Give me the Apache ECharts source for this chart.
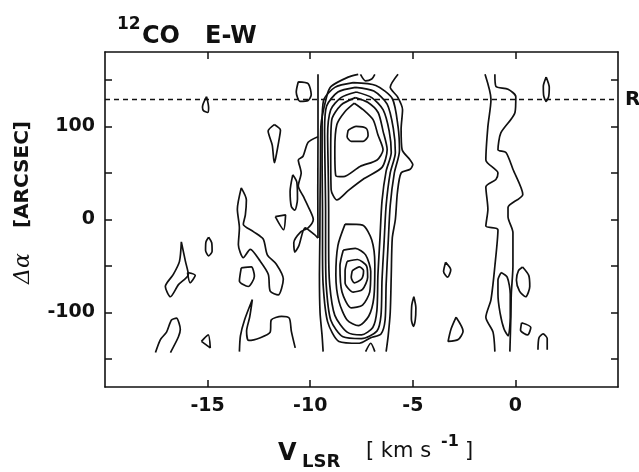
<!DOCTYPE html>
<html>
<head>
<meta charset="utf-8">
<script src="https://cdn.jsdelivr.net/npm/echarts@6/dist/echarts.min.js"></script>
<style>
  html, body { margin: 0; padding: 0; background: #fff; }
  #chart { width: 639px; height: 472px; }
</style>
</head>
<body>
<div id="chart"></div>
<script>
// axis ticks and labels
var xTicks = [-15, -10, -5, 0];
var yTicks = [-150, -100, -50, 0, 50, 100, 150];
var yLabels = [-100, 0, 100];
var refOffset = 129; // dashed line "R"

// contour lines, [v_LSR (km/s), delta alpha (arcsec)]
// main cloud, upper lobe
var upperPeak = [[-8.15,96],[-7.76,100],[-7.27,98],[-7.18,90],[-7.42,84],[-8.0,84],[-8.2,89],[-8.15,96]];
var upperInner = [[-7.85,125],[-7.42,118],[-6.93,107],[-6.7,91],[-6.45,75],[-6.74,64],[-7.57,57],[-8.39,46],[-8.75,47],[-8.8,75],[-8.7,102],[-8.3,116],[-7.85,125]];
var upperOuter = [[-7.8,131],[-7.2,126],[-6.69,115],[-6.45,95],[-6.25,75],[-6.5,56],[-7.37,44],[-8.15,31],[-8.7,21],[-8.98,32],[-9.0,75],[-8.95,107],[-8.5,123],[-7.8,131]];
// main cloud, lower lobe
var lowerPeak = [[-7.95,-55],[-7.6,-51],[-7.4,-55],[-7.5,-64],[-7.85,-68],[-8.0,-62],[-7.95,-55]];
var lowerCore = [[-8.2,-45],[-7.7,-43],[-7.25,-50],[-7.2,-62],[-7.45,-75],[-7.9,-78],[-8.3,-68],[-8.3,-55],[-8.2,-45]];
var lowerInner = [[-8.39,-33],[-7.8,-31],[-7.3,-38],[-7.05,-56],[-7.1,-78],[-7.45,-92],[-8.0,-95],[-8.45,-78],[-8.55,-50],[-8.39,-33]];
var lowerMid = [[-8.3,-5],[-7.45,-6],[-7.0,-22],[-6.85,-48],[-6.9,-84],[-7.15,-104],[-7.65,-114],[-8.2,-108],[-8.6,-88],[-8.75,-60],[-8.65,-28],[-8.3,-5]];
// contours around both lobes
var env1 = [[-7.75,137],[-7.0,131],[-6.45,118],[-6.15,95],[-6.05,72],[-6.3,52],[-6.5,20],[-6.6,-20],[-6.7,-60],[-6.75,-98],[-6.95,-116],[-7.5,-124],[-8.2,-121],[-8.8,-103],[-9.05,-70],[-9.1,-30],[-9.1,10],[-9.12,50],[-9.15,90],[-9.0,118],[-8.5,131],[-7.75,137]];
var env2 = [[-7.8,142],[-6.9,138],[-6.25,124],[-5.95,98],[-5.85,72],[-6.1,50],[-6.3,15],[-6.4,-25],[-6.5,-65],[-6.55,-103],[-6.75,-120],[-7.5,-128],[-8.4,-126],[-9.0,-108],[-9.22,-70],[-9.25,-30],[-9.25,10],[-9.28,60],[-9.3,95],[-9.2,122],[-8.65,137],[-7.8,142]];
var env3 = [[-7.9,147],[-6.8,144],[-6.0,130],[-5.72,100],[-5.65,74],[-5.9,50],[-6.1,15],[-6.2,-25],[-6.3,-70],[-6.35,-108],[-6.55,-123],[-7.05,-127],[-7.6,-133],[-8.6,-131],[-9.15,-110],[-9.37,-70],[-9.4,-30],[-9.4,10],[-9.42,60],[-9.42,100],[-9.35,128],[-8.8,142],[-7.9,147]];
var envLeft = [[-7.66,156],[-8.15,153],[-8.98,143],[-9.2,132],[-9.48,100],[-9.5,60],[-9.52,20],[-9.53,-20],[-9.55,-60],[-9.52,-100],[-9.42,-125],[-9.37,-142]];
var envRight = [[-5.72,156],[-6.1,142],[-5.75,132],[-5.5,118],[-5.57,97],[-5.52,75],[-5.13,64],[-5.0,59],[-5.13,54],[-5.57,50],[-5.75,29],[-5.85,0],[-6.0,-20],[-6.05,-60],[-6.1,-100],[-6.2,-125],[-6.3,-142]];
var topWiggle = [[-7.55,156],[-7.3,149],[-7.0,151],[-6.85,156]];
var bottomArch = [[-7.3,-142],[-7.05,-133],[-6.85,-142]];
var vertLine = [[-9.62,156],[-9.62,90],[-9.63,30],[-9.62,-20]];
var wavyLeft = [[-9.62,89],[-10.1,83],[-10.35,68],[-10.58,64],[-10.44,50],[-10.58,36],[-10.34,25],[-10.1,14],[-9.85,0],[-10.1,-9],[-10.45,-13],[-10.8,-25],[-10.75,-35],[-10.55,-28],[-10.25,-9],[-9.8,-16],[-9.62,-20]];
// small features, west side
var leftOval = [[-10.85,48],[-10.65,40],[-10.62,22],[-10.75,10],[-10.92,14],[-10.98,30],[-10.85,48]];
var dShape = [[-10.58,148],[-10.1,146],[-9.95,134],[-10.1,128],[-10.5,127],[-10.68,137],[-10.58,148]];
var tinyTri = [[-15.05,132],[-14.95,120],[-15.0,115],[-15.2,117],[-15.25,121],[-15.05,132]];
var drop = [[-11.75,102],[-11.45,96],[-11.5,88],[-11.7,64],[-11.75,61],[-11.85,80],[-12.05,95],[-11.75,102]];
var snake = [[-13.36,34],[-13.11,21],[-13.16,5],[-13.26,-5],[-12.77,-13],[-12.29,-21],[-12.09,-38],[-11.65,-48],[-11.31,-64],[-11.56,-81],[-11.95,-77],[-12.04,-59],[-12.43,-45],[-12.92,-32],[-13.26,-41],[-13.5,-27],[-13.45,-9],[-13.55,11],[-13.36,34]];
var smallTri = [[-11.7,3],[-11.2,5],[-11.3,-11],[-11.7,3]];
var longLeft = [[-16.28,-24],[-16.08,-45],[-15.94,-59],[-16.42,-70],[-16.81,-83],[-17.06,-72],[-16.67,-59],[-16.37,-45],[-16.28,-24]];
var ovalA = [[-14.95,-19],[-14.8,-25],[-14.78,-34],[-14.95,-39],[-15.1,-33],[-15.08,-24],[-14.95,-19]];
var triA = [[-15.98,-57],[-15.6,-60],[-15.85,-68],[-15.98,-57]];
var pent = [[-13.36,-52],[-12.87,-51],[-12.72,-61],[-13.02,-72],[-13.45,-66],[-13.36,-52]];
var archLeft = [[-17.54,-143],[-17.3,-129],[-17.0,-121],[-16.76,-108],[-16.52,-106],[-16.33,-118],[-16.42,-126],[-16.81,-143]];
var triB = [[-15.3,-131],[-14.97,-124],[-14.87,-138],[-15.3,-131]];
var spike = [[-13.45,-142],[-13.4,-125],[-13.2,-108],[-12.82,-86],[-12.95,-105],[-13.1,-120],[-13.0,-130],[-12.43,-127],[-11.95,-121],[-11.9,-108],[-11.4,-104],[-11.02,-106],[-10.92,-120],[-10.73,-138]];
// small features, east side
var lineA = [[-1.48,156],[-1.19,129],[-1.34,100],[-1.44,64],[-0.85,50],[-0.95,43],[-1.44,35],[-1.34,11],[-1.44,-7],[-0.85,-11],[-1.0,-50],[-1.19,-86],[-1.44,-105],[-1.09,-121],[-1.0,-142]];
var lineB = [[-1.0,156],[-0.95,143],[-0.36,140],[0.02,132],[-0.02,115],[-0.71,93],[-0.85,75],[-0.46,72],[-0.12,54],[0.36,27],[-0.36,13],[-0.36,3],[-0.12,-14],[-0.12,-50],[-0.2,-80],[-0.22,-104],[-0.27,-142]];
var ovalC = [[-0.7,-57],[-0.4,-62],[-0.25,-80],[-0.25,-105],[-0.35,-125],[-0.55,-118],[-0.75,-100],[-0.85,-80],[-0.85,-65],[-0.7,-57]];
var ovalD = [[0.35,-51],[0.65,-60],[0.7,-72],[0.5,-83],[0.2,-77],[0.05,-65],[0.15,-55],[0.35,-51]];
var dropE = [[-3.4,-46],[-3.15,-54],[-3.3,-62],[-3.5,-56],[-3.4,-46]];
var thinOval = [[-4.95,-83],[-4.85,-95],[-4.88,-108],[-4.97,-115],[-5.07,-107],[-5.05,-92],[-4.95,-83]];
var triC = [[-2.89,-105],[-2.55,-120],[-2.79,-129],[-3.28,-131],[-3.14,-118],[-2.89,-105]];
var diamond = [[0.3,-111],[0.75,-116],[0.6,-124],[0.25,-119],[0.3,-111]];
var archRight = [[1.1,-140],[1.15,-127],[1.35,-123],[1.55,-128],[1.55,-140]];
var ovalTop = [[1.5,153],[1.65,142],[1.62,132],[1.5,127],[1.38,133],[1.36,143],[1.5,153]];

var contours = [
  upperPeak, upperInner, upperOuter,
  lowerPeak, lowerCore, lowerInner, lowerMid,
  env1, env2, env3, envLeft, envRight, topWiggle, bottomArch, vertLine, wavyLeft,
  leftOval, dShape, tinyTri, drop, snake, smallTri, longLeft, ovalA, triA, pent,
  archLeft, triB, spike,
  lineA, lineB, ovalC, ovalD, dropE, thinOval, triC, diamond, archRight, ovalTop
];

var ink = '#111';
var font = 'DejaVu Sans';
var chart = echarts.init(document.getElementById('chart'));

function makeAxis(pos, min, max, ticks, labels) {
  return {
    type: 'value',
    position: pos,
    min: min,
    max: max,
    axisLine: { show: true, onZero: false, lineStyle: { color: ink, width: 1.6 } },
    axisTick: { show: true, inside: true, length: 7, customValues: ticks, lineStyle: { color: ink, width: 1.5 } },
    axisLabel: labels ? {
      show: true, customValues: labels, color: ink, fontFamily: font,
      fontWeight: 'bold', fontSize: 19, margin: 10
    } : { show: false },
    splitLine: { show: false }
  };
}

var series = contours.map(function (c) {
  return {
    type: 'line',
    data: c,
    showSymbol: false,
    smooth: 0.25,
    silent: true,
    lineStyle: { color: ink, width: 1.7 }
  };
});

series.push({
  type: 'line',
  data: [],
  silent: true,
  markLine: {
    silent: true,
    symbol: 'none',
    animation: false,
    lineStyle: { color: ink, width: 1.3, type: [5, 4] },
    label: {
      show: true, position: 'end', formatter: 'R', distance: 7,
      color: ink, fontFamily: font, fontWeight: 'bold', fontSize: 20
    },
    data: [{ yAxis: refOffset }]
  }
});

function label(txt, x, y, fnt, rot) {
  return {
    type: 'text', x: x, y: y, rotation: rot || 0, silent: true,
    style: {
      text: txt, font: fnt, fill: ink,
      align: 'left', verticalAlign: 'middle',
      textAlign: 'left', textVerticalAlign: 'middle'
    }
  };
}

var option = {
  animation: false,
  backgroundColor: '#fff',
  grid: { left: 105, right: 21, top: 52, bottom: 85 },
  xAxis: [
    makeAxis('bottom', -20, 5, xTicks, xTicks),
    makeAxis('top', -20, 5, xTicks, null)
  ],
  yAxis: [
    makeAxis('left', -180, 180, yTicks, yLabels),
    makeAxis('right', -180, 180, yTicks, null)
  ],
  graphic: [
    label('12', 117, 25, 'bold 17px "DejaVu Sans"'),
    label('CO   E-W', 142, 37, 'bold 24px "DejaVu Sans"'),
    label('V', 278, 454, 'bold 24px "DejaVu Sans"'),
    label('LSR', 302, 462, 'bold 18px "DejaVu Sans"'),
    label('[ km s', 366, 452, '21px "DejaVu Sans"'),
    label('-1', 441, 442, 'bold 16px "DejaVu Sans"'),
    label(']', 465, 452, '21px "DejaVu Sans"'),
    label('\u0394\u03b1', 23, 284, 'italic 22px "DejaVu Serif"', Math.PI / 2),
    label('[ARCSEC]', 23, 228, 'bold 20px "DejaVu Sans"', Math.PI / 2)
  ],
  series: series
};

chart.setOption(option);
</script>
</body>
</html>
